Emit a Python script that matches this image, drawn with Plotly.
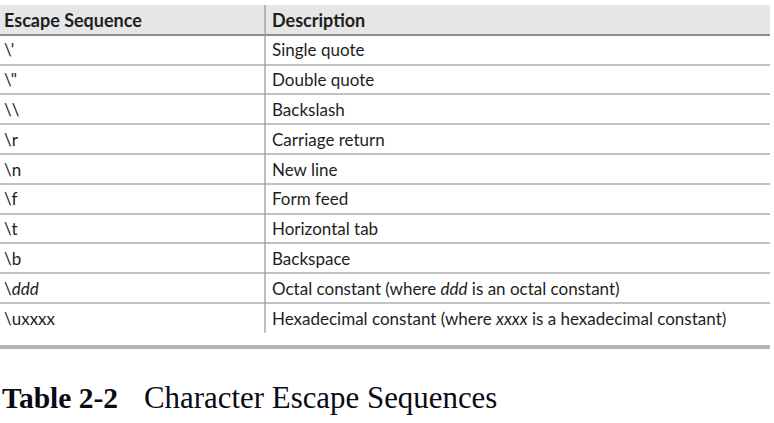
import plotly.graph_objects as go

# conteudo da tabela
cabecalho = ["Escape Sequence", "Description"]
sequencias = ["\\'", "\\\"", "\\\\", "\\r", "\\n", "\\f", "\\t", "\\b",
              "\\<i>ddd</i>", "\\uxxxx"]
descricoes = ["Single quote", "Double quote", "Backslash", "Carriage return",
              "New line", "Form feed", "Horizontal tab", "Backspace",
              "Octal constant (where <i>ddd</i> is an octal constant)",
              "Hexadecimal constant (where <i>xxxx</i> is a hexadecimal constant)"]
legenda_num = "Table 2-2"
legenda_txt = "Character Escape Sequences"

fonte = "Lato"
cor_texto = "#1e1e1e"
x_col1, x_col2, x_divisor, largura = 4, 272, 265, 770
altura_linha = 29.8       # px por linha
topo, base = 5, 345       # area da tabela em px
desloc = 2.5 / altura_linha   # texto um pouco abaixo do centro

n = len(sequencias)
linhas = [i + 0.5 + desloc for i in range(n)]   # centro de cada linha (cabecalho em -0.5)

fig = go.Figure()

# cabecalho
fig.add_trace(go.Scatter(
    x=[x_col1, x_col2], y=[-0.5 + desloc] * 2, mode="text",
    text=["<b>%s</b>" % h for h in cabecalho], textposition="middle right",
    textfont=dict(family=fonte, size=18, color=cor_texto),
    hoverinfo="skip", showlegend=False,
))
# colunas
fig.add_trace(go.Scatter(
    x=[x_col1] * n, y=linhas, mode="text", text=sequencias,
    textposition="middle right",
    textfont=dict(family=fonte, size=17, color=cor_texto),
    hoverinfo="skip", showlegend=False,
))
fig.add_trace(go.Scatter(
    x=[x_col2] * n, y=linhas, mode="text", text=descricoes,
    textposition="middle right",
    textfont=dict(family=fonte, size=17, color=cor_texto),
    hoverinfo="skip", showlegend=False,
))

# fundo do cabecalho e divisor vertical
fig.add_shape(type="rect", xref="x", yref="y", x0=0, x1=largura, y0=-1, y1=0,
              fillcolor="#e6e6e6", line_width=0, layer="below")
fig.add_shape(type="line", xref="x", yref="y", x0=x_divisor, x1=x_divisor,
              y0=-1, y1=n, line=dict(color="#9c9c9c", width=1.3), layer="between")

y_legenda = -(398 - base) / (base - topo)
fig.add_annotation(text="<b>%s</b>" % legenda_num, xref="paper", yref="paper",
                   x=0, y=y_legenda, xanchor="left", yanchor="middle",
                   showarrow=False,
                   font=dict(family="Liberation Serif", size=29.5, color="#0a0a14"))
fig.add_annotation(text=legenda_txt, xref="paper", yref="paper",
                   x=142 / largura, y=y_legenda, xanchor="left",
                   yanchor="middle", showarrow=False,
                   font=dict(family="Liberation Serif", size=30.9, color="#0a0a14"))

fig.update_xaxes(range=[0, largura], showgrid=False, zeroline=False,
                 showticklabels=False, ticks="",
                 showline=True, linecolor="#b3b3b3", linewidth=4)
fig.update_yaxes(range=[-1 + (base - topo) / altura_linha, -1],
                 tickvals=list(range(1, n)), showticklabels=False, ticks="",
                 showgrid=True, gridcolor="#c2c2c2", gridwidth=2,
                 zeroline=True, zerolinecolor="#8c8c8c", zerolinewidth=2)

fig.update_layout(
    width=774, height=423,
    margin=dict(l=0, r=774 - largura, t=topo, b=423 - base),
    paper_bgcolor="white",
    plot_bgcolor="white",
)

fig.write_html("out.html", config={"displayModeBar": False},
               post_script="document.body.style.margin='0';")
